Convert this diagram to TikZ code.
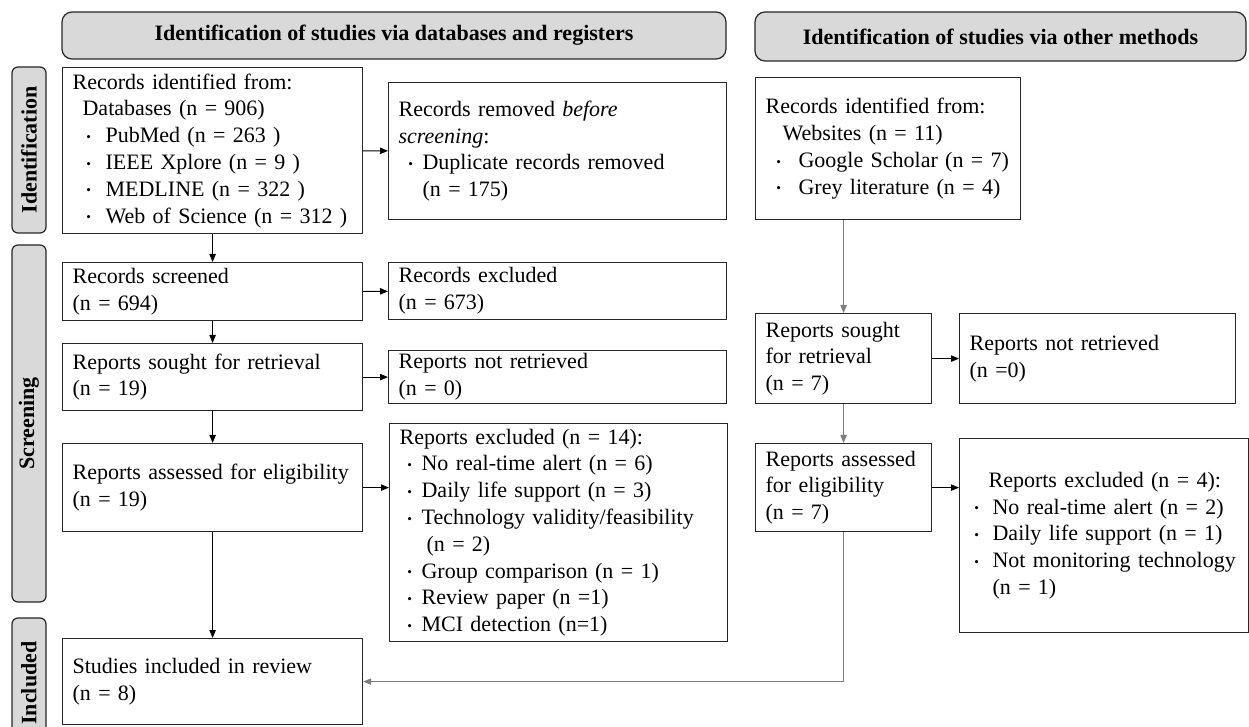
\documentclass[tikz,border=0pt]{standalone}
\usepackage{fontspec}
\setmainfont{Liberation Serif}
\usetikzlibrary{arrows.meta}
\definecolor{bannerfill}{HTML}{D9D9D9}
\definecolor{linkgray}{HTML}{7F7F7F}
% dot item: dot centred at #1, text starting at #2
\newcommand{\itm}[2]{\makebox[#2][l]{\hspace*{#1}\makebox[0pt]{\raisebox{0.12ex}{\scalebox{0.6}{\textbullet}}}}}
\tikzset{
  % text boxes: text width and height of the frame
  entry/.style 2 args={rectangle, draw=black!85, line width=0.6pt, fill=white,
    anchor=north west, align=left, text width=#1, minimum height=#2,
    inner xsep=5pt, inner ysep=1pt, font=\fontsize{11}{13.4}\selectfont},
  banner/.style 2 args={rectangle, rounded corners=5pt, draw=black!85, line width=0.6pt,
    fill=bannerfill, minimum width=#1, minimum height=#2,
    font=\fontsize{11}{13.4}\selectfont\bfseries},
  stage/.style={rectangle, rounded corners=3pt, draw=black!85, line width=0.6pt,
    fill=bannerfill, rotate=90, minimum width=#1, minimum height=17pt,
    inner sep=0pt, font=\fontsize{11}{13.4}\selectfont\bfseries},
  link/.style={line width=0.5pt, draw=#1, -{Triangle[length=4pt,width=3.2pt]}},
  link/.default=black
}

\begin{document}
\begin{tikzpicture}[x=0.5pt, y=-0.5pt]
\useasboundingbox (0,0) rectangle (1249,727);

% Headers and stages
\node[banner={332pt}{23.5pt}] (hdData) at (394,35.5) {Identification of studies via databases and registers};
\node[banner={245.5pt}{24.5pt}] (hdOther) at (1000.5,36.5) {Identification of studies via other methods};
\node[stage=83pt]    (stIdent) at (29,150)   {Identification};
\node[stage=178.5pt] (stScreen) at (29,423.5) {Screening};
\node[stage=65pt]    (stIncl) at (29,683)   {Included};

% Databases and registers
\node[entry={140pt}{83pt}] (recData) at (62,67) {Records identified from:\\
  \hspace*{5pt}Databases (n = 906)\\
  \itm{8pt}{16.5pt}PubMed (n = 263 )\\
  \itm{8pt}{16.5pt}IEEE Xplore (n = 9 )\\
  \itm{8pt}{16.5pt}MEDLINE (n = 322 )\\
  \itm{8pt}{16.5pt}Web of Science (n = 312 )};
\node[entry={159pt}{68.5pt}] (remData) at (388,82) {Records removed \textit{before}\\
  \textit{screening}:\\
  \itm{6pt}{12pt}Duplicate records removed\\
  \hspace*{12pt}(n = 175)};
\node[entry={140pt}{29pt}] (scrData) at (62,262) {Records screened\\(n = 694)};
\node[entry={159pt}{28.5pt}] (excData) at (388,262) {Records excluded\\(n = 673)};
\node[entry={140pt}{33.5pt}] (sghtData) at (62,343) {Reports sought for retrieval\\(n = 19)};
\node[entry={159pt}{26.5pt}] (notData) at (388,350) {Reports not retrieved\\(n = 0)};
\node[entry={140pt}{44pt}] (assData) at (62,443) {Reports assessed for eligibility\\(n = 19)};
\node[entry={159pt}{109pt}] (exclData) at (389,423) {Reports excluded (n = 14):\\
  \itm{5pt}{11pt}No real-time alert (n = 6)\\
  \itm{5pt}{11pt}Daily life support (n = 3)\\
  \itm{5pt}{11pt}Technology validity/feasibility\\
  \hspace*{13.5pt}(n = 2)\\
  \itm{5pt}{11pt}Group comparison (n = 1)\\
  \itm{5pt}{11pt}Review paper (n =1)\\
  \itm{5pt}{11pt}MCI detection (n=1)};
\node[entry={140pt}{43pt}] (incl) at (62,638) {Studies included in review\\(n = 8)};

% Other methods
\node[entry={122.5pt}{71pt}] (recOther) at (755,77) {Records identified from:\\
  \hspace*{8.5pt}Websites (n = 11)\\
  \itm{6.5pt}{16.5pt}Google Scholar (n = 7)\\
  \itm{6.5pt}{16.5pt}Grey literature (n = 4)};
\node[entry={78pt}{45pt}] (sghtOther) at (755,313) {Reports sought\\for retrieval\\(n = 7)};
\node[entry={128pt}{45pt}] (notOther) at (959,313) {Reports not retrieved\\(n =0)};
\node[entry={78pt}{44pt}] (assOther) at (755,443) {Reports assessed\\for eligibility\\(n = 7)};
\node[entry={134.5pt}{97pt}] (exclOther) at (959,438) {\hspace*{9.5pt}Reports excluded (n = 4):\\
  \itm{3.5pt}{11.5pt}No real-time alert (n = 2)\\
  \itm{3.5pt}{11.5pt}Daily life support (n = 1)\\
  \itm{3.5pt}{11.5pt}Not monitoring technology\\
  \hspace*{11.5pt}(n = 1)};

% Links
\draw[link] (recData) -- (scrData);
\draw[link] (recData) -- (remData);
\draw[link] (scrData) -- (excData);
\draw[link] (scrData) -- (sghtData);
\draw[link] (sghtData) -- (notData);
\draw[link] (sghtData) -- (assData);
\draw[link] (assData.east) -- (assData.east -| exclData.west);
\draw[link] (assData) -- (incl);

\draw[link=linkgray] (sghtOther.north |- recOther.south) -- (sghtOther.north);
\draw[link] (sghtOther) -- (notOther);
\draw[link=linkgray] (sghtOther) -- (assOther);
\draw[link] (assOther.east) -- (assOther.east -| exclOther.west);
\draw[link=linkgray] (assOther.south) |- (incl.east);

\end{tikzpicture}
\end{document}
